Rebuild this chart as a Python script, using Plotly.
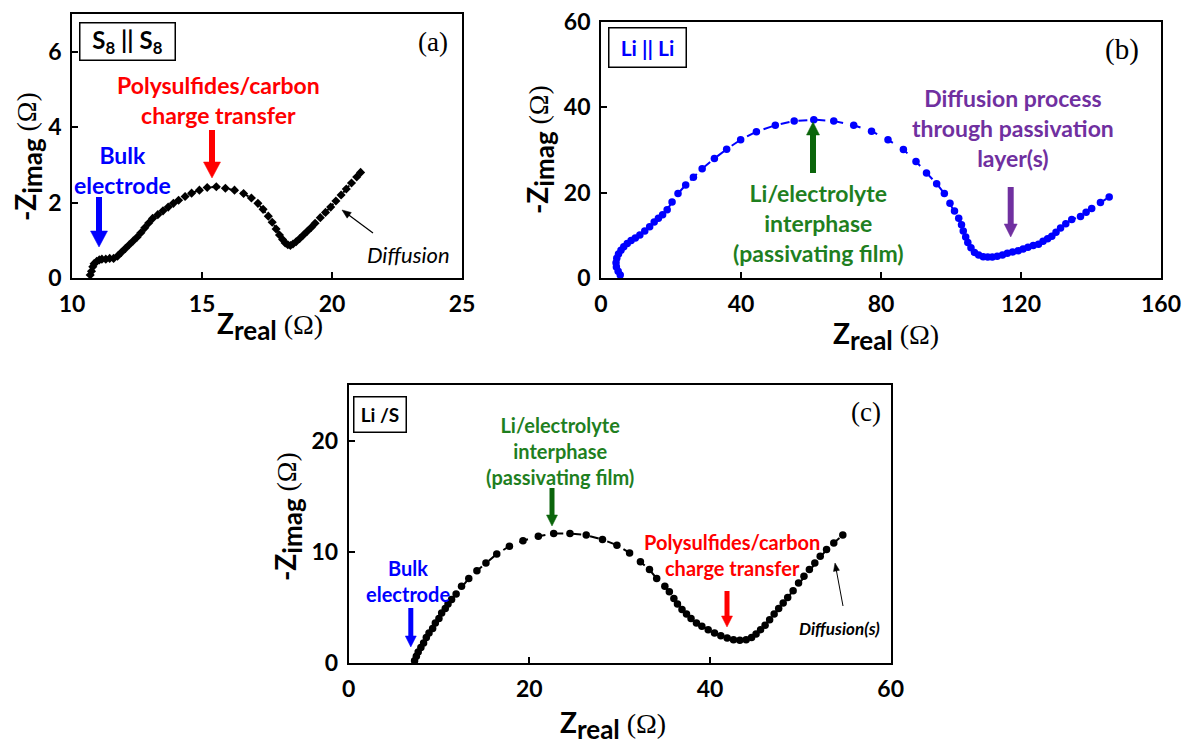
import math
import plotly.graph_objects as go

# page body has an 8px default margin: the figure is drawn 8px smaller and
# all layout pixel positions are taken relative to that offset
W, H = 1192, 745
OFF = 8
FW, FH = W - OFF, H - OFF

# ---------------- data ----------------
# Panel (a): S8 || S8
a_zreal = [10.70, 10.75, 10.80, 10.85, 10.95, 11.05, 11.15, 11.30, 11.45, 11.60,
           11.75, 11.90, 12.05, 12.20, 12.35, 12.50, 12.65, 12.80, 12.95, 13.10,
           13.30, 13.50, 13.70, 13.90, 14.10, 14.35, 14.60, 14.90, 15.20, 15.55,
           15.90, 16.25, 16.60, 16.90, 17.15, 17.35, 17.55, 17.70, 17.85, 17.98,
           18.10, 18.20, 18.30, 18.40, 18.50, 18.62, 18.75, 18.90, 19.05, 19.20,
           19.35, 19.55, 19.75, 19.95, 20.15, 20.35, 20.55, 20.75, 20.95, 21.10]
a_zimag = [0.08, 0.18, 0.30, 0.38, 0.44, 0.48, 0.50, 0.50, 0.52, 0.52,
           0.58, 0.68, 0.78, 0.88, 0.98, 1.08, 1.20, 1.33, 1.46, 1.58,
           1.68, 1.78, 1.88, 1.98, 2.06, 2.16, 2.25, 2.33, 2.40, 2.42,
           2.38, 2.33, 2.24, 2.12, 1.98, 1.82, 1.64, 1.48, 1.30, 1.14,
           1.02, 0.93, 0.88, 0.86, 0.90, 0.96, 1.04, 1.14, 1.24, 1.34,
           1.45, 1.60, 1.74, 1.88, 2.04, 2.20, 2.36, 2.52, 2.68, 2.80]

# Panel (b): Li || Li
b_zreal = [5.5, 4.9, 4.4, 4.3, 4.5, 5.0, 5.7, 6.5, 7.5, 8.6,
           9.8, 11.1, 12.5, 13.9, 15.2, 16.4, 17.6, 18.9, 20.3, 22.0,
           24.2, 26.4, 28.9, 32.4, 35.9, 39.9, 44.4, 49.8, 55.2, 60.8,
           66.5, 72.2, 77.3, 82.0, 86.4, 90.0, 93.0, 95.9, 98.1, 99.7,
           101.0, 102.2, 103.0, 103.5, 104.2, 104.8, 105.7, 106.7, 107.9, 109.2,
           110.5, 111.8, 113.2, 114.7, 116.1, 117.6, 119.2, 120.6, 122.0, 123.5,
           125.0, 126.3, 127.6, 128.8, 130.0, 131.3, 132.8, 134.5, 137.0, 138.6,
           140.2, 142.7, 145.2]
b_zimag = [0.7, 1.6, 2.6, 3.6, 4.6, 5.6, 6.5, 7.3, 8.1, 8.8,
           9.4, 10.1, 11.0, 12.0, 13.1, 14.0, 14.8, 16.0, 17.8, 19.8,
           21.8, 23.6, 25.6, 28.0, 30.2, 32.4, 34.3, 35.8, 36.8, 37.1,
           36.8, 35.8, 34.4, 32.4, 30.1, 27.3, 24.6, 22.1, 19.8, 17.5,
           15.7, 14.0, 12.5, 11.0, 9.6, 8.3, 7.1, 6.0, 5.4, 5.0,
           4.9, 4.9, 5.1, 5.4, 5.8, 6.1, 6.4, 6.8, 7.2, 7.6,
           7.9, 8.6, 9.2, 9.8, 10.7, 11.7, 12.7, 13.7, 14.4, 15.4,
           16.3, 17.7, 19.0]

# Panel (c): Li / S
c_zreal = [7.3, 7.5, 7.7, 8.0, 8.3, 8.6, 8.9, 9.3, 9.6, 10.0,
           10.3, 10.7, 11.0, 11.4, 11.9, 12.5, 13.3, 14.2, 15.2, 16.4,
           17.8, 19.3, 21.0, 22.7, 24.5, 26.3, 28.1, 29.7, 31.1, 32.3,
           33.3, 34.1, 35.0, 35.5, 36.0, 36.4, 36.9, 37.4, 37.9, 38.5,
           39.1, 39.8, 40.5, 41.2, 41.9, 42.6, 43.3, 44.0, 44.6, 45.1,
           45.6, 46.1, 46.6, 47.1, 47.6, 48.1, 48.6, 49.2, 49.8, 50.4,
           51.0, 51.6, 52.2, 52.9, 53.7, 54.7]
c_zimag = [0.2, 0.6, 1.0, 1.4, 1.8, 2.3, 2.7, 3.1, 3.6, 4.0,
           4.5, 4.9, 5.3, 5.7, 6.2, 6.9, 7.6, 8.3, 9.0, 9.8,
           10.5, 11.0, 11.4, 11.65, 11.65, 11.5, 11.1, 10.6, 9.9, 9.1,
           8.4, 7.6, 6.9, 6.4, 5.8, 5.3, 4.8, 4.4, 4.0, 3.6,
           3.3, 3.0, 2.7, 2.45, 2.25, 2.1, 2.05, 2.1, 2.3, 2.6,
           3.0, 3.4, 3.9, 4.4, 4.9, 5.4, 5.9, 6.5, 7.2, 7.8,
           8.4, 9.0, 9.6, 10.2, 10.8, 11.5]

# tick values
a_xticks = [10, 15, 20, 25]
a_yticks = [0, 2, 4, 6]
b_xticks = [0, 40, 80, 120, 160]
b_yticks = [0, 20, 40, 60]
c_xticks = [0, 20, 40, 60]
c_yticks = [0, 10, 20]

# ---------------- helpers ----------------
def px(x):
    return (x - OFF) / FW

def py(y):
    return 1 - (y - OFF) / FH

SANS = "Lato"
SERIF = "Liberation Serif"
GREEN_T = "#1F7F1F"
GREEN_A = "#0B650B"
PURPLE = "#7030A0"
BLUE = "#0000FF"
RED = "#FF0000"

fig = go.Figure()

fig.add_trace(go.Scatter(
    x=a_zreal, y=a_zimag, xaxis="x", yaxis="y", mode="lines+markers",
    line=dict(color="black", width=2, dash="dot"),
    marker=dict(symbol="diamond", size=7, color="black"), showlegend=False))
fig.add_trace(go.Scatter(
    x=b_zreal, y=b_zimag, xaxis="x2", yaxis="y2", mode="lines+markers",
    line=dict(color=BLUE, width=2, dash="dash"),
    marker=dict(symbol="circle", size=7.5, color=BLUE), showlegend=False))
fig.add_trace(go.Scatter(
    x=c_zreal, y=c_zimag, xaxis="x3", yaxis="y3", mode="lines+markers",
    line=dict(color="black", width=2, dash="dash"),
    marker=dict(symbol="circle", size=7.5, color="black"), showlegend=False))


def axis(domain, rng, tickvals, anchor):
    return dict(domain=domain, range=rng, tickvals=tickvals, anchor=anchor,
                showline=True, linecolor="black", linewidth=1.8, mirror=True,
                ticks="inside", ticklen=6, tickwidth=1.5, tickcolor="black",
                showgrid=False, zeroline=False, ticklabelstandoff=4, automargin=False,
                ticklabeloverflow="allow",
                tickfont=dict(family=SANS, size=23, color="black", weight="bold"))

fig.update_layout(
    template="none",
    width=FW, height=FH, margin=dict(l=0, r=0, t=0, b=0, pad=0, autoexpand=False),
    paper_bgcolor="white", plot_bgcolor="white", showlegend=False,
    xaxis=axis([px(72), px(462)], [10, 25], a_xticks, "y"),
    yaxis=axis([py(278), py(14)], [0, 7], a_yticks, "x"),
    xaxis2=axis([px(601), px(1161)], [0, 160], b_xticks, "y2"),
    yaxis2=axis([py(278), py(22)], [0, 60], b_yticks, "x2"),
    xaxis3=axis([px(348.6), px(890.7)], [0, 60], c_xticks, "y3"),
    yaxis3=axis([py(663), py(385)], [0, 25], c_yticks, "x3"),
)

ann = []
shapes = []

def text(x, y, s, size, color="black", family=SANS, bold=True, italic=False, angle=0, **kw):
    f = dict(family=family, size=size, color=color)
    if bold:
        f["weight"] = "bold"
    if italic:
        f["style"] = "italic"
    d = dict(x=px(x), y=py(y), xref="paper", yref="paper", text=s, showarrow=False,
             font=f, xanchor="center", yanchor="middle", textangle=angle)
    d.update(kw)
    ann.append(d)

def arrow(hx, hy, tx, ty, color, width, hw, hl):
    """Arrow from tail (tx, ty) to head (hx, hy), in page pixels."""
    dx, dy = hx - tx, hy - ty
    L = math.hypot(dx, dy)
    ux, uy = dx / L, dy / L
    bx, by = hx - ux * hl, hy - uy * hl
    nx, ny = -uy, ux
    shapes.append(dict(type="line", xref="paper", yref="paper",
                       x0=px(tx), y0=py(ty), x1=px(bx + ux * 1), y1=py(by + uy * 1),
                       line=dict(color=color, width=width)))
    p1 = (bx + nx * hw / 2, by + ny * hw / 2)
    p2 = (bx - nx * hw / 2, by - ny * hw / 2)
    path = "M %.5f,%.5f L %.5f,%.5f L %.5f,%.5f Z" % (
        px(hx), py(hy), px(p1[0]), py(p1[1]), px(p2[0]), py(p2[1]))
    shapes.append(dict(type="path", xref="paper", yref="paper", path=path,
                       fillcolor=color, line=dict(color=color, width=0.5)))

OMEGA = "<span style='font-family:Liberation Serif;font-weight:normal'>(Ω)</span>"
XT = "Z<sub><span style='font-size:26px'>real</span></sub> " + OMEGA
YT = "-Z<sub><span style='font-size:26px'>imag</span></sub> " + OMEGA

# axis titles
text(270, 326, XT, 28)
text(28, 157, YT, 28, angle=-90)
text(886, 336, XT, 28)
text(540, 150, YT, 28, angle=-90)
text(613, 725, XT, 28)
text(288, 517, YT, 28, angle=-90)

# panel labels
text(433, 42, "(a)", 27, family=SERIF, bold=False)
text(1122, 50, "(b)", 29, family=SERIF, bold=False)
text(866, 412, "(c)", 27, family=SERIF, bold=False)

# boxed labels
text(127, 41, "S<sub>8</sub> || S<sub>8</sub>", 24, bordercolor="black", borderwidth=1.5,
     borderpad=0, width=94, height=36, bgcolor="white")
text(647, 48, "Li || Li", 21, color=BLUE, bordercolor="black", borderwidth=1.5,
     borderpad=0, width=76, height=38, bgcolor="white")
text(380, 414, "Li /S", 19, bordercolor="black", borderwidth=1.5,
     borderpad=0, width=51, height=34, bgcolor="white")

# panel (a) annotations
text(218, 100, "Polysulfides/carbon<br>charge transfer", 23, color=RED)
arrow(212, 178, 212, 130, RED, 6, 17, 16)
text(123, 170, "Bulk<br>electrode", 23, color=BLUE)
arrow(99, 247, 99, 197, BLUE, 6, 17, 16)
text(408, 255, "Diffusion", 22, bold=False, italic=True)
arrow(342, 210, 373, 233, "black", 1.2, 7, 9)

# panel (b) annotations
text(818, 223, "Li/electrolyte<br>interphase<br>(passivating film)", 23, color=GREEN_T)
arrow(813, 122, 813, 173, GREEN_A, 6, 13, 13)
text(1013, 128, "Diffusion process<br>through passivation<br>layer(s)", 23, color=PURPLE)
arrow(1010.7, 237, 1010.7, 187, PURPLE, 6, 13, 13)

# panel (c) annotations
text(560, 451, "Li/electrolyte<br>interphase<br>(passivating film)", 20, color=GREEN_T)
arrow(552, 526, 552, 488, GREEN_A, 5, 11, 11)
text(732, 555, "Polysulfides/carbon<br>charge transfer", 20, color=RED)
arrow(727, 627, 727, 591, RED, 5, 11, 11)
text(408, 581, "Bulk<br>electrode", 20, color=BLUE)
arrow(410.8, 647, 410.8, 608, BLUE, 5, 11, 11)
text(839, 628, "Diffusion(s)", 17, italic=True)
arrow(835, 563, 843, 606, "black", 1.0, 6, 8)

fig.update_layout(annotations=ann, shapes=shapes)

fig.write_html("out.html")
